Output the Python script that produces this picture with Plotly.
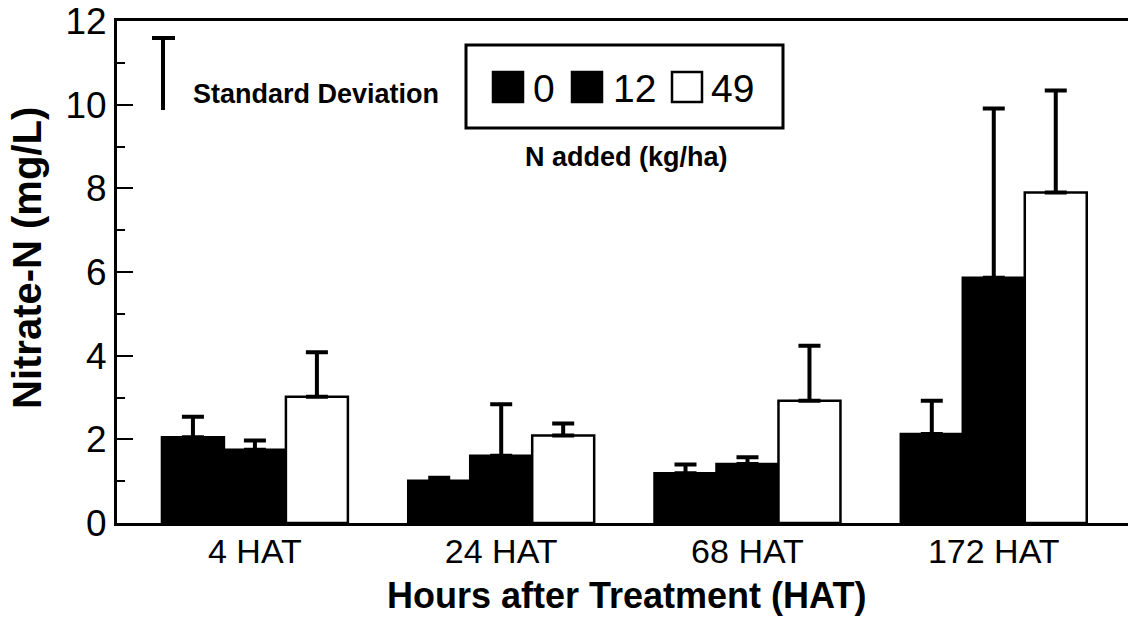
import plotly.graph_objects as go

# ---- data ----
groups = ["4 HAT", "24 HAT", "68 HAT", "172 HAT"]
group_pos = [0, 1, 2, 3]
n_rates = ["0", "12", "49"]
mean_0 = [2.05, 1.01, 1.19, 2.13]
mean_12 = [1.75, 1.61, 1.41, 5.86]
mean_49 = [3.02, 2.09, 2.92, 7.90]
sd_0 = [0.49, 0.07, 0.21, 0.79]
sd_12 = [0.22, 1.23, 0.16, 4.05]
sd_49 = [1.06, 0.29, 1.32, 2.44]
y_ticks = [0, 2, 4, 6, 8, 10, 12]

W, H = 1128, 627
L, R, T, B = 117, 1128, 21, 523
FONT = "Liberation Sans, Arial, Helvetica, sans-serif"


def px(x):
    return (x - L) / (R - L)


def py(y):
    return (B - y) / (B - T)


fig = go.Figure()
fills = ["black", "black", "white"]
means = [mean_0, mean_12, mean_49]
sds = [sd_0, sd_12, sd_49]
for name, fill, m, s in zip(n_rates, fills, means, sds):
    fig.add_trace(go.Bar(
        x=group_pos, y=m, name=name, offsetgroup=name,
        marker=dict(color=fill, line=dict(color="black", width=2.5)),
        error_y=dict(type="data", array=s, arrayminus=[0] * len(s),
                     symmetric=False, color="black", thickness=4, width=11),
        showlegend=False,
    ))

fig.update_layout(
    width=W, height=H,
    margin=dict(l=L, r=W - R, t=T, b=H - B, autoexpand=False),
    paper_bgcolor="white", plot_bgcolor="white",
    barmode="group", bargap=0.245, bargroupgap=0,
    font=dict(family=FONT, color="black"),
    xaxis=dict(
        range=[-0.56, 3.545], tickvals=group_pos, ticktext=groups,
        showline=True, linecolor="black", linewidth=3, mirror=True,
        ticks="", showgrid=False, zeroline=False, ticklabelstandoff=-4,
        tickfont=dict(size=34, family=FONT, color="black"),
    ),
    yaxis=dict(
        range=[0, 12], tickvals=y_ticks,
        showline=True, linecolor="black", linewidth=3,
        ticks="inside", ticklen=16, tickwidth=2, tickcolor="black",
        minor=dict(dtick=1, ticks="inside", ticklen=8, tickwidth=2, tickcolor="black"),
        showgrid=False, zeroline=False,
        tickfont=dict(size=37, family=FONT, color="black"),
    ),
)

# axis titles
fig.add_annotation(text="Hours after Treatment (HAT)", xref="paper", yref="paper",
                   x=px(626), y=py(595), xanchor="center", yanchor="middle",
                   showarrow=False, font=dict(size=36, family=FONT, weight="bold"))
fig.add_annotation(text="Nitrate-N (mg/L)", xref="paper", yref="paper",
                   x=px(27), y=py(258), xanchor="center", yanchor="middle",
                   textangle=-90, showarrow=False,
                   font=dict(size=40, family=FONT, weight="bold"))

# standard deviation key
fig.add_shape(type="line", xref="paper", yref="paper",
              x0=px(163), x1=px(163), y0=py(38), y1=py(110),
              line=dict(color="black", width=4))
fig.add_shape(type="line", xref="paper", yref="paper",
              x0=px(152), x1=px(175), y0=py(38), y1=py(38),
              line=dict(color="black", width=4))
fig.add_annotation(text="Standard Deviation", xref="paper", yref="paper",
                   x=px(191), y=py(94), xanchor="left", yanchor="middle",
                   showarrow=False, font=dict(size=27, family=FONT, weight="bold"))

# legend box
fig.add_shape(type="rect", xref="paper", yref="paper",
              x0=px(466), x1=px(783), y0=py(128), y1=py(45),
              line=dict(color="black", width=3), fillcolor="white")
sq_left = [493, 572, 672]
txt_left = [531, 611, 709]
for name, fill, sx, tx in zip(n_rates, fills, sq_left, txt_left):
    fig.add_shape(type="rect", xref="paper", yref="paper",
                  x0=px(sx), x1=px(sx + 30), y0=py(102), y1=py(72),
                  line=dict(color="black", width=2.5), fillcolor=fill)
    fig.add_annotation(text=name, xref="paper", yref="paper",
                       x=px(tx), y=py(88), xanchor="left", yanchor="middle",
                       showarrow=False, font=dict(size=39, family=FONT))
fig.add_annotation(text="N added (kg/ha)", xref="paper", yref="paper",
                   x=px(626), y=py(157), xanchor="center", yanchor="middle",
                   showarrow=False, font=dict(size=27, family=FONT, weight="bold"))

fig.write_html("out.html")
